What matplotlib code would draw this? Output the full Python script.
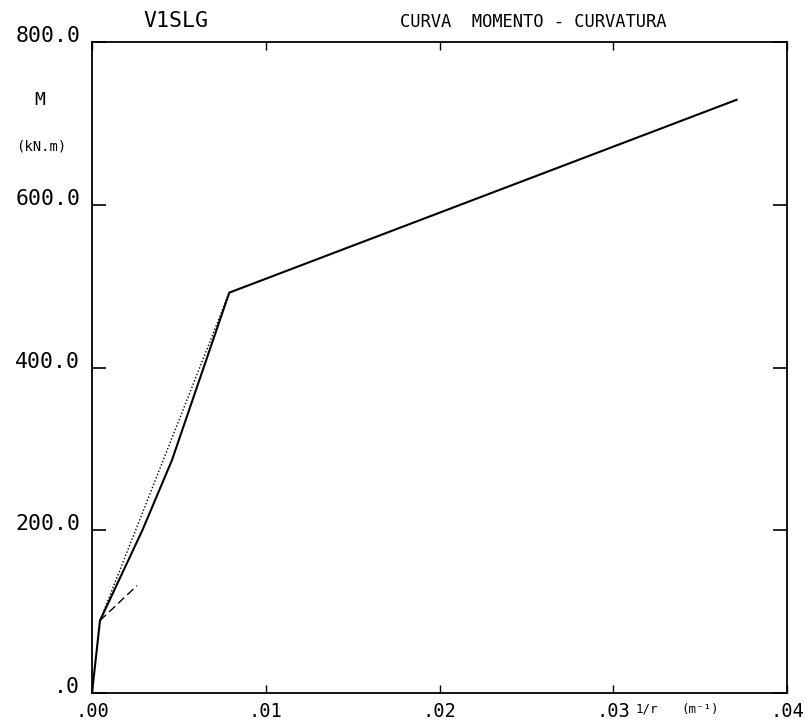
import matplotlib
matplotlib.use("Agg")
import matplotlib.pyplot as plt

# Moment-curvature curve (curvature in 1/m, moment in kN.m)
curvature = [0.0, 0.00046, 0.0029, 0.0046, 0.0079, 0.0371]
moment = [0.0, 89.0, 200.0, 286.0, 492.0, 729.0]

# Secant from cracking to yielding
secant_curv = [0.00046, 0.0079]
secant_mom = [89.0, 492.0]

# Uncracked-stiffness continuation
uncracked_curv = [0.00046, 0.00259]
uncracked_mom = [89.0, 132.0]

x_ticks = [0.0, 0.01, 0.02, 0.03, 0.04]
x_labels = [".00", ".01", ".02", ".03", ".04"]
y_ticks = [0.0, 200.0, 400.0, 600.0, 800.0]
y_labels = [".0", "200.0", "400.0", "600.0", "800.0"]

W, H = 810, 722
fig = plt.figure(figsize=(W / 100, H / 100), dpi=100)
ax = fig.add_axes([92 / W, 1 - 693 / H, (787 - 92) / W, (693 - 42) / H])

ax.plot(curvature, moment, color="black", lw=1.5, solid_joinstyle="miter")
ax.plot(secant_curv, secant_mom, color="black", lw=1.0, linestyle=(0, (1, 1.5)))
ax.plot(uncracked_curv, uncracked_mom, color="black", lw=1.0, linestyle=(0, (6, 3)))

ax.set_xlim(0, 0.04)
ax.set_ylim(0, 800)

mono = "DejaVu Sans Mono"
ax.set_xticks(x_ticks)
ax.set_xticklabels(x_labels, family=mono, fontsize=13.5)
ax.set_yticks(y_ticks)
ax.set_yticklabels(y_labels, family=mono, fontsize=15.5, va="baseline")

ax.tick_params(axis="y", direction="in", length=10, width=1.2, pad=8.5,
               right=True)
ax.tick_params(axis="x", direction="in", length=6, width=1.0, pad=6.5,
               top=True)

for side in ax.spines.values():
    side.set_linewidth(1.3)

fig.text(176 / W, 1 - 27 / H, "V1SLG", family=mono, fontsize=15.5,
         ha="center", va="baseline")
fig.text(400 / W, 1 - 27 / H, "CURVA  MOMENTO - CURVATURA", family=mono,
         fontsize=12.3, ha="left", va="baseline")
fig.text(40 / W, 1 - 105 / H, "M", family=mono, fontsize=13,
         ha="center", va="baseline")
fig.text(41 / W, 1 - 150 / H, "(kN.m)", family=mono, fontsize=10,
         ha="center", va="baseline")
fig.text(647 / W, 1 - 713 / H, "1/r", family=mono, fontsize=9,
         ha="center", va="baseline")
fig.text(700 / W, 1 - 713 / H, "(m\u207b\u00b9)", family=mono, fontsize=9,
         ha="center", va="baseline")

fig.savefig("out.png", dpi=100)
